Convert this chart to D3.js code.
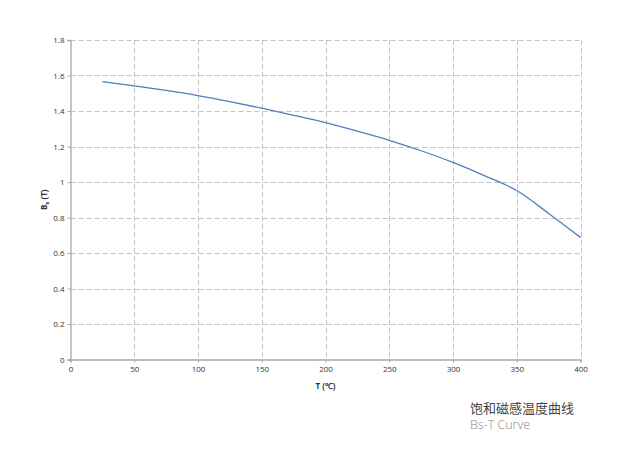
<!DOCTYPE html>
<html><head><meta charset="utf-8">
<script src="https://cdn.jsdelivr.net/npm/d3@7"></script>
<style>
html,body{margin:0;padding:0;background:#fff;}
svg{display:block;}
</style></head>
<body>
<svg id="chart" width="631" height="455"></svg>
<script>
const temps = [25, 50, 75, 100, 125, 150, 175, 200, 225, 250, 275, 300, 325, 350, 375, 400];
const bs = [1.565, 1.542, 1.516, 1.487, 1.453, 1.416, 1.376, 1.334, 1.286, 1.235, 1.176, 1.110, 1.035, 0.952, 0.823, 0.688];
const xTicks = [0, 50, 100, 150, 200, 250, 300, 350, 400];
const yTicks = [0, 0.2, 0.4, 0.6, 0.8, 1, 1.2, 1.4, 1.6, 1.8];
const titleCn = "饱和磁感温度曲线";
const titleEn = "Bs-T Curve";

(function () {
const svg = d3.select("#chart");
const mLeft = 70.5, mRight = 580.5, mTop = 40, mBottom = 359.5;
const x = d3.scaleLinear().domain([0, 400]).range([mLeft, mRight]);
const y = d3.scaleLinear().domain([0, 1.8]).range([mBottom, mTop]);
const font = "'Open Sans', 'Liberation Sans', Arial, sans-serif";

// gridlines
svg.append("g").selectAll("line").data(yTicks.filter(d => d > 0)).join("line")
  .attr("x1", mLeft).attr("x2", mRight)
  .attr("y1", d => Math.round(y(d)) + 0.5).attr("y2", d => Math.round(y(d)) + 0.5)
  .attr("stroke", "#c4c4c4").attr("stroke-width", 1).attr("stroke-dasharray", "5,3");
svg.append("g").selectAll("line").data(xTicks.filter(d => d > 0)).join("line")
  .attr("y1", mTop).attr("y2", mBottom)
  .attr("x1", d => Math.round(x(d)) + 0.5).attr("x2", d => Math.round(x(d)) + 0.5)
  .attr("stroke", "#c4c4c4").attr("stroke-width", 1).attr("stroke-dasharray", "5,3");

// axes
const yAxis = d3.axisLeft(y).tickValues(yTicks).tickSize(3).tickFormat(d => d3.format("~g")(d));
const xAxis = d3.axisBottom(x).tickValues(xTicks).tickSize(3).tickFormat(d3.format("d"));
const gy = svg.append("g").attr("transform", `translate(${mLeft},0)`).call(yAxis);
const gx = svg.append("g").attr("transform", `translate(0,${mBottom})`).call(xAxis);
[gy, gx].forEach(g => {
  g.select(".domain").attr("stroke", "#a8a8a8").attr("stroke-width", 1.3);
  g.selectAll(".tick line").attr("stroke", "#a8a8a8");
  g.selectAll(".tick text").attr("fill", "#333").style("font-family", font).style("font-size", "8px");
});
gy.selectAll(".tick text").attr("x", -6);
gx.selectAll(".tick text").attr("y", 7);

// line
const line = d3.line().x((d, i) => x(temps[i])).y(d => y(d)).curve(d3.curveMonotoneX);
svg.append("path").datum(bs).attr("d", line)
  .attr("fill", "none").attr("stroke", "#4f7fbc").attr("stroke-width", 1.3);

// axis titles
svg.append("text").attr("x", x(200)).attr("y", 389).attr("text-anchor", "middle")
  .style("font-family", font).style("font-size", "8px").style("font-weight", "bold").attr("fill", "#333")
  .text("T (℃)");
const yt = svg.append("text").attr("transform", `translate(47,${y(0.9)}) rotate(-90)`)
  .attr("text-anchor", "middle")
  .style("font-family", font).style("font-size", "8px").style("font-weight", "bold").attr("fill", "#333");
yt.append("tspan").text("B");
yt.append("tspan").attr("dy", 2).style("font-size", "6px").text("s");
yt.append("tspan").attr("dy", -2).text(" (T)");

// caption
svg.append("text").attr("x", 470).attr("y", 413)
  .style("font-family", "'Noto Sans CJK SC', sans-serif").style("font-size", "13px").attr("fill", "#444")
  .text(titleCn);
svg.append("text").attr("x", 470).attr("y", 428.5)
  .style("font-family", "'Open Sans', sans-serif").style("font-size", "12.5px").style("font-weight", 300).attr("fill", "#888")
  .text(titleEn);
})();
</script>
</body></html>
